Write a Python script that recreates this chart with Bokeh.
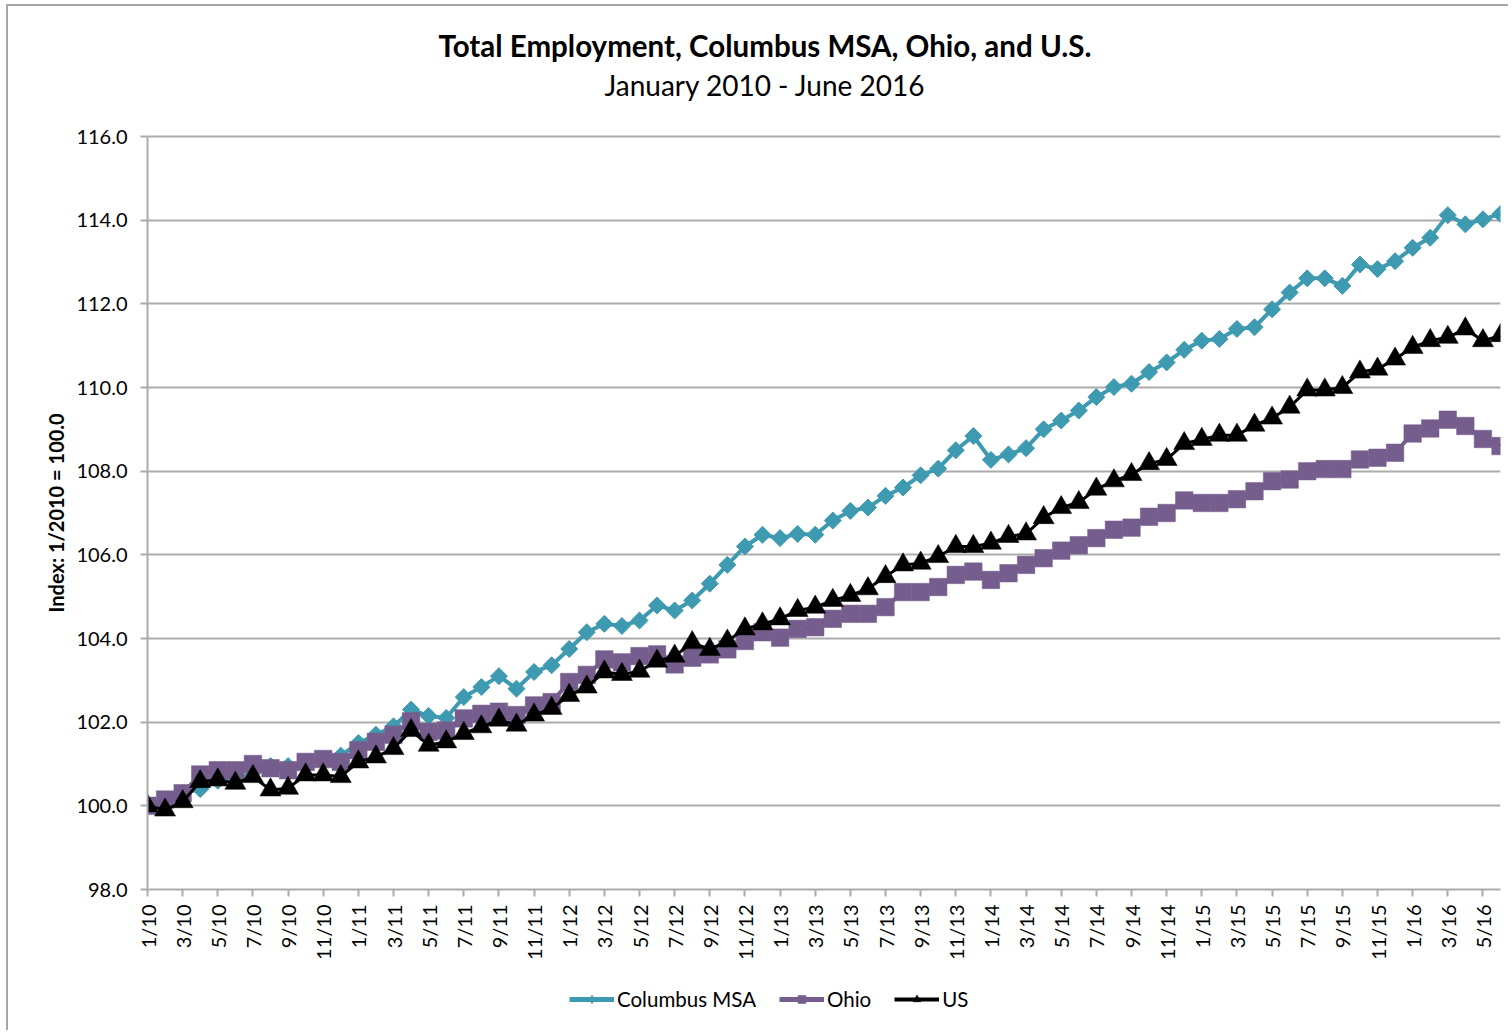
import math
from bokeh.plotting import figure
from bokeh.layouts import column
from bokeh.models import (Range1d, FixedTicker, PrintfTickFormatter, Title,
                          Legend, LegendItem, ColumnDataSource)
from bokeh.embed import file_html
from bokeh.resources import INLINE

# ---------------- data (index, 1/2010 = 100.0) ----------------
month_index = list(range(78))  # Jan 2010 ... Jun 2016

columbus = [100.0, 100.05, 100.3, 100.4, 100.6, 100.6, 100.8, 100.95, 100.95, 101.0,
            101.1, 101.2, 101.5, 101.7, 101.9, 102.3, 102.15, 102.1, 102.6, 102.84,
            103.1, 102.8, 103.2, 103.36, 103.75, 104.15, 104.35, 104.3, 104.43, 104.79,
            104.67, 104.91, 105.31, 105.76, 106.2, 106.48, 106.4, 106.5, 106.48, 106.82,
            107.05, 107.13, 107.41, 107.61, 107.9, 108.06, 108.5, 108.84, 108.27, 108.4,
            108.55, 109.0, 109.21, 109.45, 109.77, 110.01, 110.09, 110.37, 110.6, 110.9,
            111.12, 111.16, 111.4, 111.44, 111.87, 112.27, 112.61, 112.61, 112.43, 112.94,
            112.83, 113.02, 113.34, 113.58, 114.12, 113.9, 114.02, 114.15]

ohio = [100.0, 100.15, 100.3, 100.75, 100.85, 100.85, 101.0, 100.9, 100.85, 101.05,
        101.12, 101.05, 101.33, 101.53, 101.7, 102.02, 101.77, 101.8, 102.09, 102.2,
        102.25, 102.17, 102.4, 102.48, 102.96, 103.13, 103.5, 103.43, 103.58, 103.62,
        103.38, 103.54, 103.62, 103.74, 103.94, 104.15, 104.02, 104.23, 104.27, 104.47,
        104.59, 104.59, 104.75, 105.11, 105.11, 105.23, 105.52, 105.6, 105.4, 105.56,
        105.76, 105.92, 106.1, 106.23, 106.4, 106.6, 106.65, 106.91, 107.0, 107.3,
        107.24, 107.24, 107.33, 107.52, 107.76, 107.8, 108.0, 108.05, 108.05, 108.28,
        108.32, 108.44, 108.9, 109.02, 109.23, 109.08, 108.77, 108.6]

us = [100.0, 99.9, 100.1, 100.58, 100.62, 100.54, 100.7, 100.38, 100.42, 100.74,
      100.74, 100.7, 101.05, 101.17, 101.37, 101.8, 101.45, 101.53, 101.73, 101.89,
      102.05, 101.93, 102.17, 102.33, 102.64, 102.84, 103.2, 103.14, 103.22, 103.46,
      103.58, 103.9, 103.74, 103.94, 104.23, 104.35, 104.47, 104.67, 104.75, 104.91,
      105.03, 105.19, 105.48, 105.76, 105.8, 105.96, 106.2, 106.2, 106.28, 106.44,
      106.5, 106.89, 107.13, 107.25, 107.57, 107.77, 107.92, 108.18, 108.28, 108.66,
      108.76, 108.86, 108.86, 109.1, 109.27, 109.53, 109.94, 109.94, 110.0, 110.37,
      110.44, 110.68, 110.96, 111.12, 111.2, 111.4, 111.12, 111.24]

x_tick_positions = list(range(0, 78, 2))
x_tick_labels = ["1/10", "3/10", "5/10", "7/10", "9/10", "11/10",
                 "1/11", "3/11", "5/11", "7/11", "9/11", "11/11",
                 "1/12", "3/12", "5/12", "7/12", "9/12", "11/12",
                 "1/13", "3/13", "5/13", "7/13", "9/13", "11/13",
                 "1/14", "3/14", "5/14", "7/14", "9/14", "11/14",
                 "1/15", "3/15", "5/15", "7/15", "9/15", "11/15",
                 "1/16", "3/16", "5/16"]
y_ticks = [98, 100, 102, 104, 106, 108, 110, 112, 114, 116]
y_min, y_max = 98, 116

series_names = ["Columbus MSA", "Ohio", "US"]
title_text = "Total Employment, Columbus MSA, Ohio, and U.S."
subtitle_text = "January 2010 - June 2016"
y_label = "Index: 1/2010 = 100.0"

# ---------------- styles ----------------
FONT = "Lato"
TEAL = "#3e9ab1"
PURPLE = "#755d8d"
BLACK = "#000000"
GRID = "#ababab"
BORDER = "#a6a6a6"

STYLE = {
    "col": dict(line=dict(line_color=TEAL, line_width=4),
                mark=dict(marker="square", angle=math.pi / 4, size=12,
                          fill_color=TEAL, line_color=TEAL, line_width=1)),
    "oh": dict(line=dict(line_color=PURPLE, line_width=4),
               mark=dict(marker="square", size=17.5,
                         fill_color=PURPLE, line_color=PURPLE, line_width=0.5)),
    "us": dict(line=dict(line_color=BLACK, line_width=3),
               mark=dict(marker="triangle", size=21,
                         fill_color=BLACK, line_color=BLACK, line_width=0.5)),
}
LEGEND_MARK = {"col": dict(marker="diamond", size=17, angle=0.0),
               "oh": dict(size=15),
               "us": dict(size=18)}
LEGEND_LINE_WIDTH = {"col": 5, "oh": 5, "us": 4}

src = ColumnDataSource(dict(x=month_index, col=columbus, oh=ohio, us=us))

# ---------------- main chart ----------------
# frame top at 105 px (white headroom above the 116 line), 116 line at 136 px
headroom = (136 - 105) / ((889 - 136) / (y_max - y_min))

p = figure(width=1508, height=968,
           x_range=Range1d(0, 77), y_range=Range1d(y_min, y_max + headroom),
           output_backend="svg", toolbar_location=None,
           min_border_left=147, min_border_right=8,
           min_border_top=105, min_border_bottom=79)
p.styles = {"background": (f"linear-gradient({BORDER},{BORDER}) 6px 4px / 2px calc(100% - 4px) no-repeat, "
                           f"linear-gradient({BORDER},{BORDER}) 6px 4px / calc(100% - 6px) 2px no-repeat, "
                           "#ffffff")}
p.outline_line_color = None
p.background_fill_color = "white"
p.border_fill_alpha = 0

p.xgrid.visible = False
p.ygrid.grid_line_color = GRID
p.ygrid.grid_line_width = 2
p.ygrid.ticker = FixedTicker(ticks=y_ticks)

ya = p.yaxis[0]
ya.ticker = FixedTicker(ticks=y_ticks)
ya.bounds = (y_min, y_max)
ya.formatter = PrintfTickFormatter(format="%.1f")
ya.axis_line_color = GRID
ya.axis_line_width = 2
ya.major_tick_line_color = GRID
ya.major_tick_line_width = 2
ya.major_tick_out = 7
ya.major_tick_in = 0
ya.minor_tick_line_color = None
ya.major_label_text_font = FONT
ya.major_label_text_font_size = "20px"
ya.major_label_text_color = "black"
ya.major_label_standoff = 13

# y-axis title, centred on the 98-116 span (not on the frame with headroom)
ylab = Title(text=y_label, text_font=FONT, text_font_size="20px",
             text_font_style="bold", text_color="black",
             align="left", offset=277, standoff=12)
p.add_layout(ylab, "left")

xa = p.xaxis[0]
xa.ticker = FixedTicker(ticks=x_tick_positions)
xa.major_label_overrides = {pos: lab for pos, lab in zip(x_tick_positions, x_tick_labels)}
xa.major_label_orientation = math.pi / 2
xa.axis_line_color = GRID
xa.axis_line_width = 2
xa.major_tick_line_color = GRID
xa.major_tick_line_width = 2
xa.major_tick_out = 7
xa.major_tick_in = 0
xa.minor_tick_line_color = None
xa.major_label_text_font = FONT
xa.major_label_text_font_size = "20px"
xa.major_label_text_color = "black"
xa.major_label_standoff = 8

for key in ["col", "oh", "us"]:
    p.line("x", key, source=src, **STYLE[key]["line"])
    p.scatter("x", key, source=src, **STYLE[key]["mark"])

sub = Title(text=subtitle_text, text_font=FONT, text_font_size="28px",
            text_font_style="normal", text_color="black",
            align="left", offset=457, standoff=7)
main = Title(text=title_text, text_font=FONT, text_font_size="29.5px",
             text_font_style="bold", text_color="black",
             align="left", offset=291, standoff=0)
p.add_layout(sub, "above")
p.add_layout(main, "above")

# ---------------- legend strip under the chart ----------------
# the strip's ranges lie outside the data, so only the legend shows
lg = figure(width=1508, height=62, x_range=Range1d(0, 1), y_range=Range1d(0, 1),
            output_backend="svg", toolbar_location=None,
            x_axis_location=None, y_axis_location=None,
            min_border_left=0, min_border_right=0,
            min_border_top=0, min_border_bottom=0)
lg.styles = {"background": (f"linear-gradient({BORDER},{BORDER}) 6px 0 / 2px 100% no-repeat, "
                            "#ffffff")}
lg.grid.visible = False
lg.outline_line_color = None
lg.background_fill_alpha = 0
lg.border_fill_alpha = 0

items = []
for key, name in zip(["col", "oh", "us"], series_names):
    ln = dict(STYLE[key]["line"])
    ln["line_width"] = LEGEND_LINE_WIDTH[key]
    lr = lg.line("x", key, source=src, **ln)
    mk = dict(STYLE[key]["mark"])
    mk.update(LEGEND_MARK[key])
    mr = lg.scatter("x", key, source=src, **mk)
    items.append(LegendItem(label=name, renderers=[lr, mr]))

legend = Legend(items=items, orientation="horizontal", location=(422, 19),
                label_text_font=FONT, label_text_font_size="20.5px",
                label_text_color="black",
                label_standoff=3, glyph_width=45, glyph_height=20,
                spacing=23, padding=6, margin=0,
                border_line_color=None, background_fill_alpha=0)
lg.add_layout(legend, "center")

layout = column(p, lg, spacing=0)
open("out.html", "w").write(file_html(layout, INLINE))
